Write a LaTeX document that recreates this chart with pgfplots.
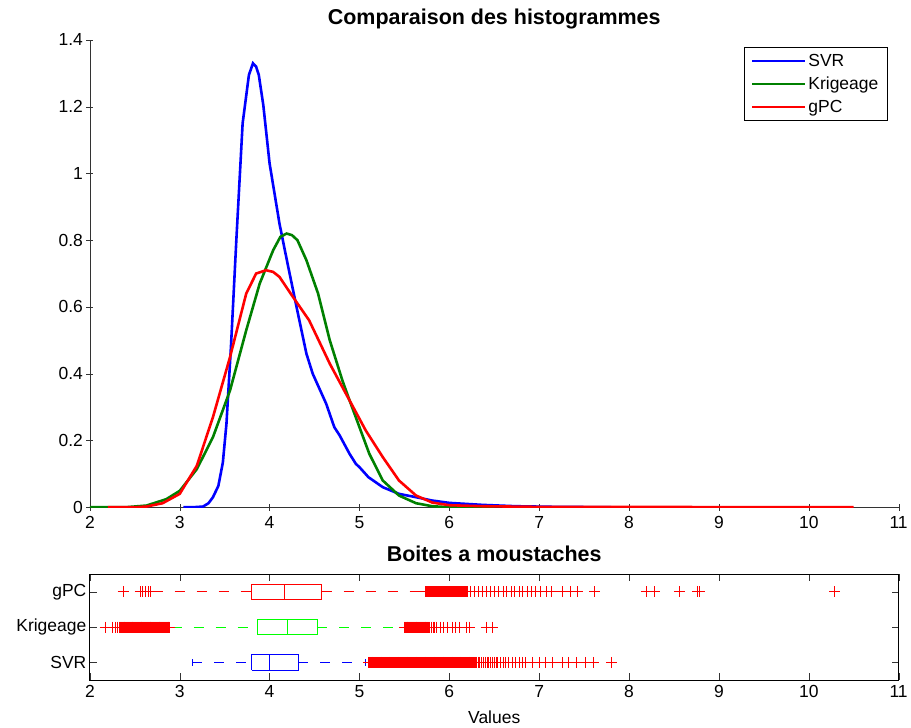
\documentclass[border=0pt]{standalone}
\usepackage{fontspec}
\setmainfont{Liberation Sans}
\usepackage{pgfplots}
\pgfplotsset{compat=1.18}
\definecolor{mgreen}{rgb}{0,0.5,0}
\definecolor{bgreen}{rgb}{0,1,0}
\begin{document}
\begin{tikzpicture}
\pgfplotsset{
  every axis/.append style={
    scale only axis,
    /pgf/number format/assume math mode=true,
    tick label style={font=\fontsize{17.5}{21}\selectfont},
    xticklabel style={yshift=-2pt},
    label style={font=\fontsize{17.5}{21}\selectfont},
    title style={font=\bfseries\fontsize{21.5}{25}\selectfont},
    axis line style={black!80},
    major tick style={black!80},
    major tick length=7pt,
    tick align=inside,
  },
  outl/.style={only marks, mark=+, color=red, mark size=5.5pt, mark options={draw=red, line width=1pt}},
}
\begin{axis}[
  name=top,
  width=810pt, height=468pt,
  xmin=2, xmax=11, ymin=0, ymax=1.4,
  xtick={2,3,4,5,6,7,8,9,10,11},
  ytick={0,0.2,0.4,0.6,0.8,1,1.2,1.4},
  axis lines=left,
  axis line style={-},
  title={Comparaison des histogrammes},
  title style={yshift=1pt},
  legend style={at={(1,1)}, anchor=north east, xshift=-11pt, yshift=-7pt,
    font=\fontsize{17.5}{21}\selectfont, draw=black, line width=0.6pt, cells={anchor=west},
    row sep=5pt, inner xsep=7pt, inner ysep=5pt},
  legend image code/.code={\draw[#1, line width=2.6pt] (0pt,0pt) -- (53pt,0pt);},
]
\coordinate (tsw) at (rel axis cs:0,0);
\addplot[blue, line width=2.6pt] coordinates {
(3.04,0) (3.15,0) (3.26,0.002) (3.32,0.012) (3.37,0.03) (3.43,0.064) (3.48,0.134)
(3.52,0.25) (3.57,0.48) (3.63,0.80) (3.70,1.15) (3.77,1.295) (3.815,1.33) (3.85,1.32)
(3.88,1.295) (3.93,1.205) (4.00,1.03) (4.11,0.85) (4.20,0.73) (4.30,0.60) (4.41,0.46)
(4.48,0.40) (4.63,0.31) (4.72,0.24) (4.78,0.215) (4.83,0.19) (4.89,0.16) (4.96,0.13)
(5.0,0.12) (5.1,0.09) (5.26,0.06) (5.44,0.04) (5.63,0.03) (5.81,0.02) (6.0,0.013)
(6.37,0.007) (6.74,0.003) (7.2,0.001) (7.8,0)
};
\addlegendentry{SVR}
\addplot[mgreen, line width=2.6pt] coordinates {
(2.0,0) (2.4,0) (2.63,0.005) (2.85,0.024) (3.0,0.049) (3.19,0.114) (3.37,0.21)
(3.56,0.35) (3.74,0.53) (3.89,0.67) (4.04,0.77) (4.12,0.81) (4.19,0.82) (4.25,0.815)
(4.31,0.80) (4.41,0.74) (4.54,0.64) (4.67,0.50) (4.81,0.38) (4.89,0.32) (5.0,0.24)
(5.11,0.16) (5.26,0.08) (5.44,0.035) (5.63,0.012) (5.81,0.003) (6.0,0) (6.5,0)
};
\addlegendentry{Krigeage}
\addplot[red, line width=2.6pt] coordinates {
(2.2,0) (2.5,0) (2.63,0.002) (2.81,0.012) (3.0,0.04) (3.19,0.124) (3.37,0.27)
(3.56,0.45) (3.74,0.64) (3.85,0.70) (3.96,0.71) (4.04,0.705) (4.11,0.69) (4.26,0.63)
(4.44,0.56) (4.67,0.43) (4.85,0.34) (4.93,0.30) (5.07,0.23) (5.26,0.15) (5.44,0.08)
(5.63,0.035) (5.81,0.014) (6.0,0.006) (6.37,0.003) (7.0,0.001) (10.5,0)
};
\addlegendentry{gPC}
\end{axis}

\begin{axis}[
  at={(top.south west)}, anchor=north west, yshift=-67pt,
  width=810pt, height=106pt,
  xmin=2, xmax=11, ymin=0.5, ymax=3.5,
  xtick={2,3,4,5,6,7,8,9,10,11},
  ytick={1,2,3}, yticklabels={SVR,Krigeage,gPC},
  title={Boites a moustaches},
  title style={yshift=3pt},
  xlabel={Values},
  xlabel style={yshift=-6pt},
  axis line style={black, line width=0.9pt},
]
% gPC
\addplot[red, line width=0.9pt] coordinates {(3.80,2.78) (4.58,2.78) (4.58,3.22) (3.80,3.22) (3.80,2.78)};
\addplot[red, line width=0.9pt] coordinates {(4.16,2.78) (4.16,3.22)};
\addplot[red, line width=0.9pt, dash pattern=on 10pt off 12pt] coordinates {(2.70,3) (3.80,3)};
\addplot[red, line width=0.9pt, dash pattern=on 10pt off 12pt] coordinates {(4.58,3) (5.72,3)};
% Krigeage
\addplot[bgreen, line width=0.9pt] coordinates {(3.86,1.78) (4.53,1.78) (4.53,2.22) (3.86,2.22) (3.86,1.78)};
\addplot[bgreen, line width=0.9pt] coordinates {(4.20,1.78) (4.20,2.22)};
\addplot[bgreen, line width=0.9pt, dash pattern=on 10pt off 12pt] coordinates {(2.91,2) (3.86,2)};
\addplot[bgreen, line width=0.9pt, dash pattern=on 10pt off 12pt] coordinates {(4.53,2) (5.48,2)};
% SVR
\addplot[blue, line width=0.9pt] coordinates {(3.80,0.78) (4.32,0.78) (4.32,1.22) (3.80,1.22) (3.80,0.78)};
\addplot[blue, line width=0.9pt] coordinates {(4.00,0.78) (4.00,1.22)};
\addplot[blue, line width=0.9pt, dash pattern=on 10pt off 12pt] coordinates {(3.14,1) (3.80,1)};
\addplot[blue, line width=0.9pt, dash pattern=on 10pt off 12pt] coordinates {(4.32,1) (5.07,1)};
\addplot[blue, line width=0.9pt] coordinates {(3.14,0.9) (3.14,1.1)};
\addplot[blue, line width=0.9pt] coordinates {(5.07,0.9) (5.07,1.1)};
% SVR outliers
\addplot[outl] coordinates {
(5.10,1) (5.11,1) (5.12,1) (5.13,1) (5.14,1) (5.15,1) (5.16,1) (5.17,1) (5.18,1) (5.19,1)
(5.20,1) (5.21,1) (5.22,1) (5.23,1) (5.24,1) (5.25,1) (5.26,1) (5.27,1) (5.28,1) (5.29,1)
(5.30,1) (5.31,1) (5.32,1) (5.33,1) (5.34,1) (5.35,1) (5.36,1) (5.37,1) (5.38,1) (5.39,1)
(5.40,1) (5.41,1) (5.42,1) (5.43,1) (5.44,1) (5.45,1) (5.46,1) (5.47,1) (5.48,1) (5.49,1)
(5.50,1) (5.51,1) (5.52,1) (5.53,1) (5.54,1) (5.55,1) (5.56,1) (5.57,1) (5.58,1) (5.59,1)
(5.60,1) (5.61,1) (5.62,1) (5.63,1) (5.64,1) (5.65,1) (5.66,1) (5.67,1) (5.68,1) (5.69,1)
(5.70,1) (5.71,1) (5.72,1) (5.73,1) (5.74,1) (5.75,1) (5.76,1) (5.77,1) (5.78,1) (5.79,1)
(5.80,1) (5.81,1) (5.82,1) (5.83,1) (5.84,1) (5.85,1) (5.86,1) (5.87,1) (5.88,1) (5.89,1)
(5.90,1) (5.91,1) (5.92,1) (5.93,1) (5.94,1) (5.95,1) (5.96,1) (5.97,1) (5.98,1) (5.99,1)
(6.00,1) (6.01,1) (6.02,1) (6.03,1) (6.04,1) (6.05,1) (6.06,1) (6.07,1) (6.08,1) (6.09,1)
(6.10,1) (6.11,1) (6.12,1) (6.13,1) (6.14,1) (6.15,1) (6.16,1) (6.17,1) (6.18,1) (6.19,1)
(6.20,1) (6.21,1) (6.22,1) (6.23,1) (6.24,1) (6.25,1) (6.26,1) (6.27,1) (6.28,1) (6.29,1)
(6.30,1) (6.32,1) (6.34,1) (6.36,1) (6.38,1) (6.40,1) (6.42,1) (6.44,1) (6.46,1) (6.48,1)
(6.50,1) (6.52,1) (6.54,1) (6.57,1) (6.60,1) (6.63,1) (6.66,1) (6.70,1) (6.74,1) (6.78,1)
(6.82,1) (6.85,1) (6.93,1) (7.00,1) (7.07,1) (7.15,1) (7.26,1) (7.33,1) (7.41,1) (7.52,1)
(7.61,1) (7.81,1)
};
% Krigeage outliers
\addplot[outl] coordinates {
(2.17,2) (2.25,2) (2.28,2) (2.31,2) (2.33,2) (2.34,2) (2.35,2) (2.36,2) (2.37,2) (2.38,2)
(2.39,2) (2.40,2) (2.41,2) (2.42,2) (2.43,2) (2.44,2) (2.45,2) (2.46,2) (2.47,2) (2.48,2)
(2.49,2) (2.50,2) (2.51,2) (2.52,2) (2.53,2) (2.54,2) (2.55,2) (2.56,2) (2.57,2) (2.58,2)
(2.59,2) (2.60,2) (2.61,2) (2.62,2) (2.63,2) (2.64,2) (2.65,2) (2.66,2) (2.67,2) (2.68,2)
(2.69,2) (2.70,2) (2.71,2) (2.72,2) (2.73,2) (2.74,2) (2.75,2) (2.76,2) (2.77,2) (2.78,2)
(2.79,2) (2.80,2) (2.81,2) (2.82,2) (2.83,2) (2.84,2) (2.85,2) (2.86,2) (2.87,2) (2.88,2)
(2.89,2)
(5.50,2) (5.51,2) (5.52,2) (5.53,2) (5.54,2) (5.55,2) (5.56,2) (5.57,2) (5.58,2) (5.59,2)
(5.60,2) (5.61,2) (5.62,2) (5.63,2) (5.64,2) (5.65,2) (5.66,2) (5.67,2) (5.68,2) (5.69,2)
(5.70,2) (5.71,2) (5.72,2) (5.73,2) (5.74,2) (5.75,2) (5.76,2) (5.77,2) (5.78,2) (5.80,2)
(5.82,2) (5.84,2) (5.86,2) (5.90,2) (5.93,2) (5.98,2) (6.03,2) (6.07,2) (6.11,2) (6.19,2)
(6.22,2) (6.41,2) (6.48,2)
};
% gPC outliers
\addplot[outl] coordinates {
(2.37,3) (2.56,3) (2.59,3) (2.62,3) (2.65,3) (2.67,3)
(5.74,3) (5.75,3) (5.76,3) (5.77,3) (5.78,3) (5.79,3) (5.80,3) (5.81,3) (5.82,3) (5.83,3)
(5.84,3) (5.85,3) (5.86,3) (5.87,3) (5.88,3) (5.89,3) (5.90,3) (5.91,3) (5.92,3) (5.93,3)
(5.94,3) (5.95,3) (5.96,3) (5.97,3) (5.98,3) (5.99,3) (6.00,3) (6.01,3) (6.02,3) (6.03,3)
(6.04,3) (6.05,3) (6.06,3) (6.07,3) (6.08,3) (6.09,3) (6.10,3) (6.11,3) (6.12,3) (6.13,3)
(6.14,3) (6.15,3) (6.16,3) (6.17,3) (6.18,3) (6.19,3) (6.20,3)
(6.24,3) (6.28,3) (6.32,3) (6.37,3) (6.41,3) (6.46,3)
(6.50,3) (6.55,3) (6.60,3) (6.64,3) (6.69,3) (6.73,3) (6.78,3) (6.82,3) (6.87,3) (6.91,3)
(6.96,3) (7.02,3) (7.08,3) (7.14,3) (7.26,3) (7.35,3) (7.43,3) (7.62,3) (8.19,3) (8.28,3)
(8.56,3) (8.76,3) (8.78,3) (10.29,3)
};
\end{axis}
\path (tsw) ++(-90pt,-221pt) rectangle ++(911pt,729pt);
\end{tikzpicture}
\end{document}
